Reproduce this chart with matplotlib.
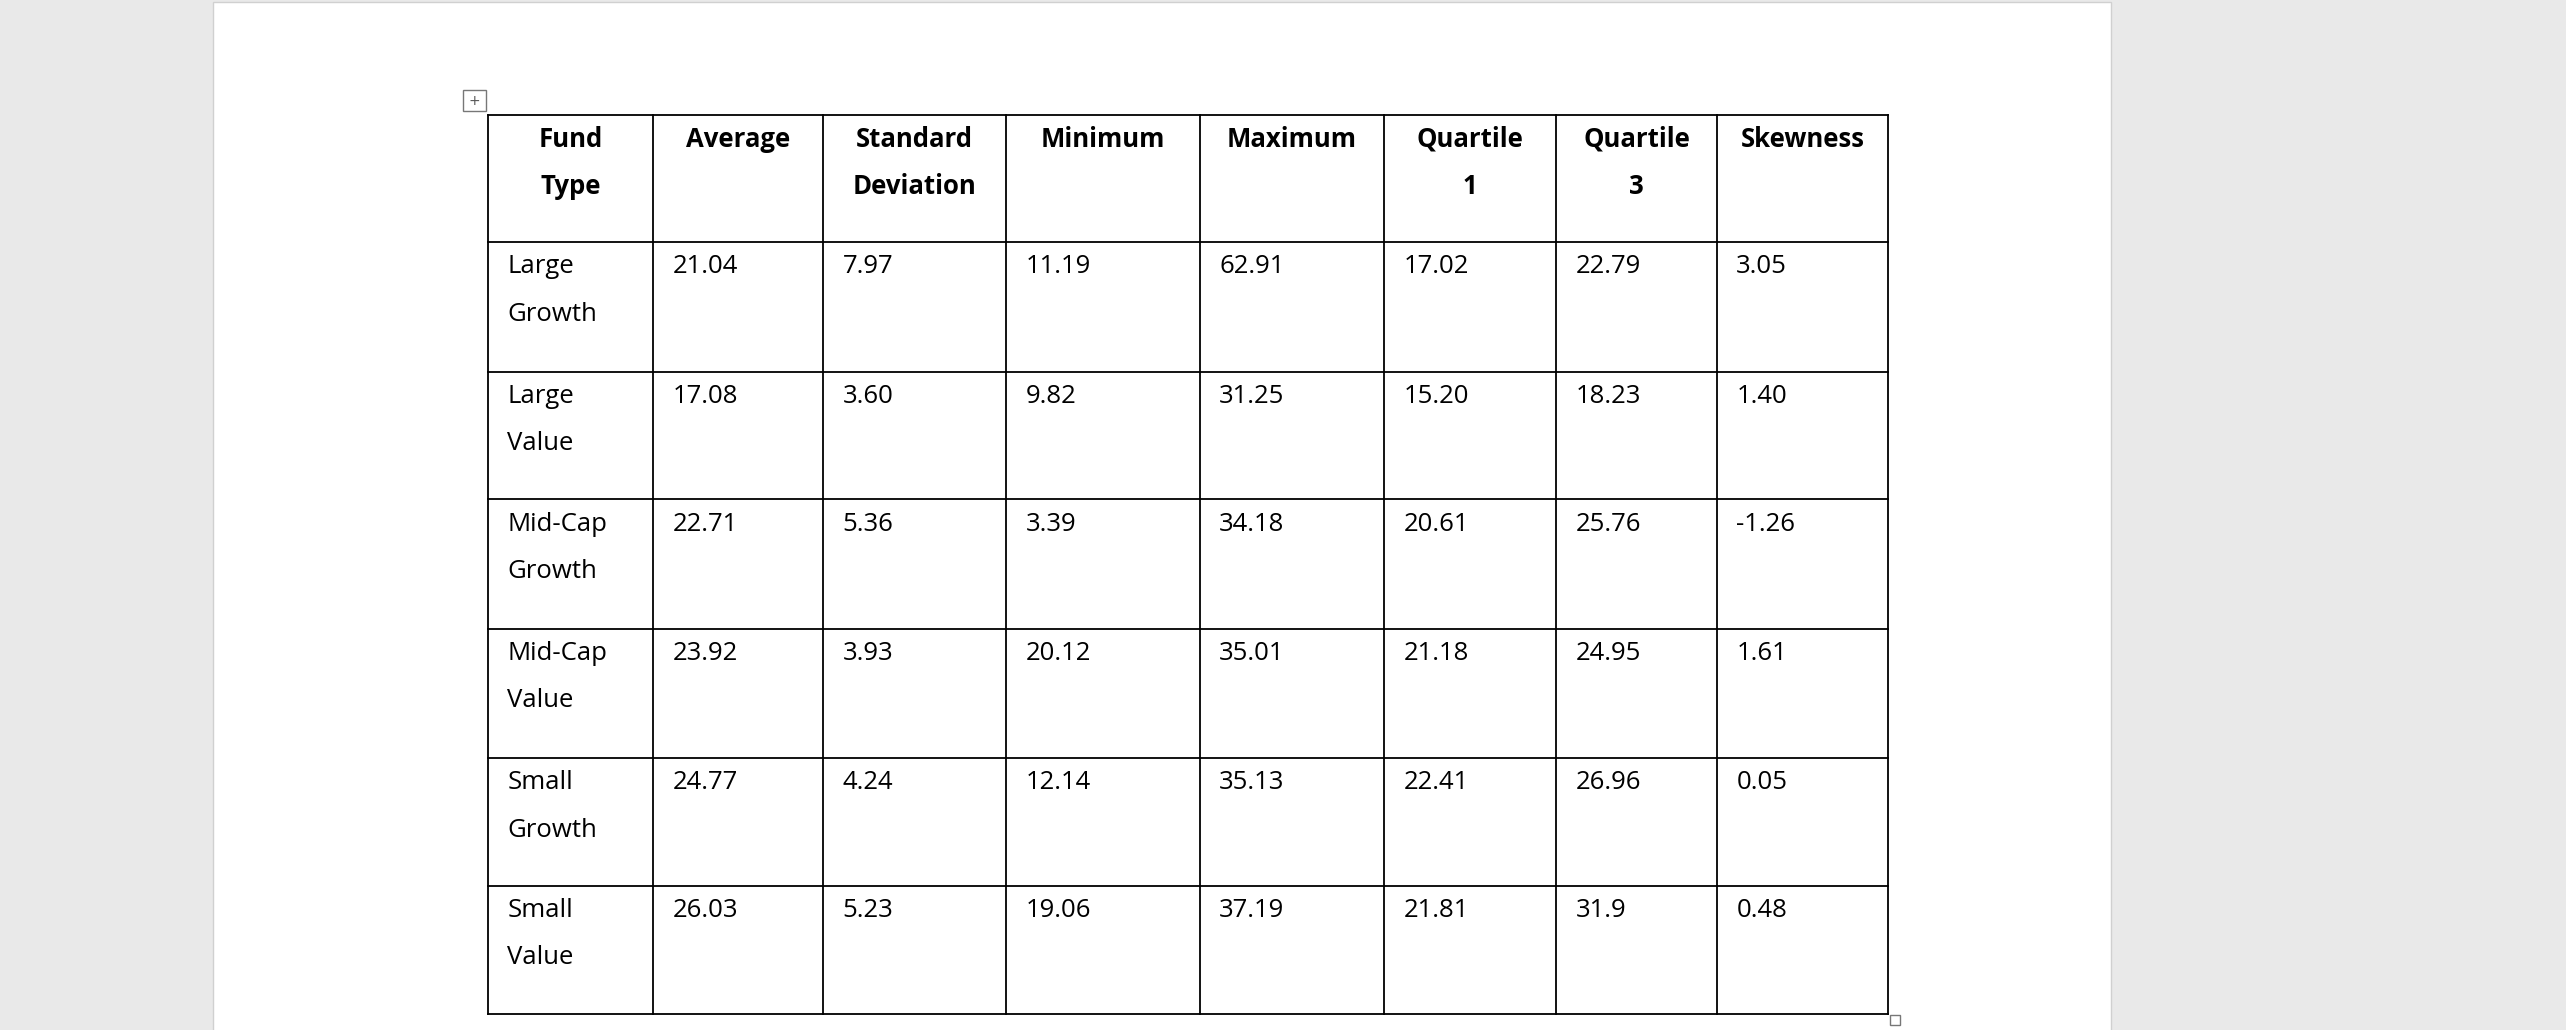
import matplotlib
matplotlib.use("Agg")
import matplotlib.pyplot as plt
from matplotlib.patches import Rectangle

headers = ["Fund\nType", "Average", "Standard\nDeviation", "Minimum", "Maximum", "Quartile\n1", "Quartile\n3", "Skewness"]
fund_types = ["Large\nGrowth", "Large\nValue", "Mid-Cap\nGrowth", "Mid-Cap\nValue", "Small\nGrowth", "Small\nValue"]
average = ["21.04", "17.08", "22.71", "23.92", "24.77", "26.03"]
std_dev = ["7.97", "3.60", "5.36", "3.93", "4.24", "5.23"]
minimum = ["11.19", "9.82", "3.39", "20.12", "12.14", "19.06"]
maximum = ["62.91", "31.25", "34.18", "35.01", "35.13", "37.19"]
quartile1 = ["17.02", "15.20", "20.61", "21.18", "22.41", "21.81"]
quartile3 = ["22.79", "18.23", "25.76", "24.95", "26.96", "31.9"]
skewness = ["3.05", "1.40", "-1.26", "1.61", "0.05", "0.48"]

W, H = 1568, 629
fig = plt.figure(figsize=(25.66, 10.30), dpi=100)
fig.patch.set_facecolor("#e9e9e9")
ax = fig.add_axes([0, 0, 1, 1])
ax.set_xlim(0, W); ax.set_ylim(H, 0); ax.axis("off")

ax.add_patch(Rectangle((130, 1), 1160, 640, facecolor="white", edgecolor="#d0d0d0", lw=1))

cols = [298, 399, 503, 615, 733, 846, 951, 1049, 1154]
rows = [70, 148, 227, 305, 384, 463, 541, 619]
for x in cols:
    ax.plot([x, x], [rows[0], rows[-1]], color="black", lw=1.3)
for y in rows:
    ax.plot([cols[0], cols[-1]], [y, y], color="black", lw=1.3)

font = "Open Sans"
fs = 18.5
for j, h in enumerate(headers):
    cx = (cols[j] + cols[j + 1]) / 2
    for k, line in enumerate(h.split("\n")):
        ax.text(cx, 85 + 29 * k, line, ha="center", va="center", fontsize=fs,
                fontweight="bold", family=font)

data_cols = [fund_types, average, std_dev, minimum, maximum, quartile1, quartile3, skewness]
for j, col in enumerate(data_cols):
    for i, val in enumerate(col):
        for k, line in enumerate(val.split("\n")):
            ax.text(cols[j] + 12, rows[i + 1] + 15 + 29 * k, line, ha="left", va="center",
                    fontsize=fs, family=font)

ax.add_patch(Rectangle((283, 55), 14, 13, facecolor="white", edgecolor="#777777", lw=1))
ax.text(290, 61.5, "+", ha="center", va="center", fontsize=10, color="#555555")
ax.add_patch(Rectangle((1155, 620), 6, 6, facecolor="white", edgecolor="#777777", lw=1))

fig.savefig("out.png", dpi=100, facecolor=fig.get_facecolor())
